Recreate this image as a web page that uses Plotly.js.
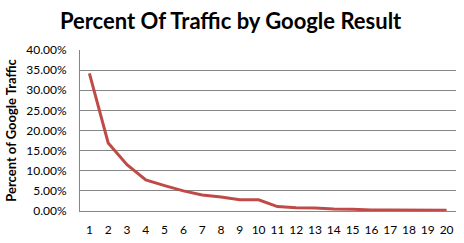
<!DOCTYPE html>
<html><head><meta charset="utf-8">
<script src="https://cdn.plot.ly/plotly-3.0.1.min.js"></script>
<style>body{margin:0;background:#fff}#c{width:464px;height:243px}</style>
</head><body><div id="c"></div>
<script>
const positions = [1,2,3,4,5,6,7,8,9,10,11,12,13,14,15,16,17,18,19,20];
const traffic = [0.342,0.169,0.115,0.077,0.063,0.050,0.040,0.035,0.028,0.028,0.011,0.008,0.0075,0.005,0.0045,0.0025,0.0025,0.0025,0.0022,0.002];
const yTicks = [0,0.05,0.10,0.15,0.20,0.25,0.30,0.35,0.40];
const yTickText = ["0.00%","5.00%","10.00%","15.00%","20.00%","25.00%","30.00%","35.00%","40.00%"];

Plotly.newPlot('c', [{
  x: positions, y: traffic, type: 'scatter', mode: 'lines',
  line: {color: '#BE4B48', width: 3}, hoverinfo: 'none'
}], {
  width: 464, height: 243,
  margin: {l: 80, r: 8, t: 50, b: 32, pad: 0},
  paper_bgcolor: '#fff', plot_bgcolor: '#fff',
  showlegend: false,
  font: {family: 'Lato, "Open Sans", sans-serif', color: '#000', size: 12},
  title: {text: 'Percent Of Traffic by Google Result', x: 0.497, xanchor: 'center', yref: 'container', y: 0.945, yanchor: 'top',
          font: {size: 22, family: 'Lato, sans-serif', weight: 'bold', color: '#000'}},
  xaxis: {
    range: [0.5, 20.5], tickmode: 'array', tickvals: positions, ticktext: positions.map(String),
    showgrid: false, zeroline: false, showline: true, linecolor: '#868686', linewidth: 1,
    ticks: '', ticklabelstandoff: 8, tickfont: {size: 12, family: 'Lato, sans-serif'}
  },
  yaxis: {
    range: [0, 0.40], tickmode: 'array', tickvals: yTicks, ticktext: yTickText,
    showgrid: true, gridcolor: '#868686', gridwidth: 1, zeroline: false,
    showline: true, linecolor: '#868686', linewidth: 1, ticks: '', ticklabelstandoff: 10,
    tickfont: {size: 12, family: 'Lato, sans-serif'},
    title: {text: 'Percent of Google Traffic', standoff: 6, font: {size: 13, family: 'Lato, sans-serif', weight: 'bold'}}
  }
}, {staticPlot: true});
</script></body></html>
